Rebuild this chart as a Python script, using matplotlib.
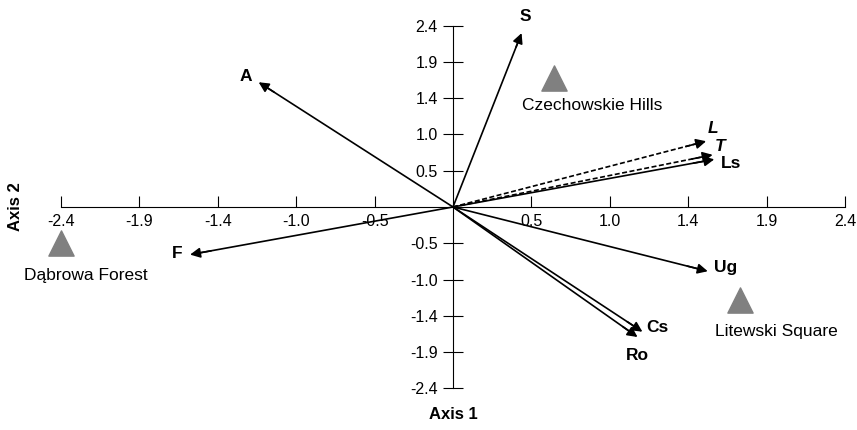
import matplotlib
matplotlib.use("Agg")
import matplotlib.pyplot as plt
import numpy as np

plt.rcParams['font.family'] = ['Liberation Sans', 'DejaVu Sans']

# environmental vectors (axis 1, axis 2)
var_names = ['S', 'A', 'L', 'T', 'Ls', 'Ug', 'Cs', 'Ro', 'F']
var_x = [0.42, -1.19, 1.55, 1.59, 1.60, 1.56, 1.16, 1.13, -1.61]
var_y = [2.30, 1.65, 0.87, 0.69, 0.63, -0.85, -1.65, -1.72, -0.63]
var_dashed = [False, False, True, True, False, False, False, False, False]
var_italic = [False, False, True, True, False, False, False, False, False]
# label offsets in points
var_offsets = [(3, 12), (-9, 4), (5, 9), (5, 6), (12, -3), (13, 3), (11, 3), (0, -13), (-9, 1)]

# study sites
site_names = ['Czechowskie Hills', 'Dąbrowa Forest', 'Litewski Square']
site_x = [0.62, -2.40, 1.76]
site_y = [1.71, -0.48, -1.23]
site_offsets = [(27, -20), (18, -23), (26, -23)]

ticks = np.arange(-5, 6) * 0.48
ticks = ticks[ticks != 0]

fig = plt.figure(figsize=(8.57, 4.30), dpi=100)
ax = fig.add_axes([0, 0, 1, 1])
ax.set_xlim(-2.774, 2.474)
ax.set_ylim(-2.950, 2.738)

for side in ['top', 'right']:
    ax.spines[side].set_visible(False)
ax.spines['left'].set_position(('data', 0))
ax.spines['bottom'].set_position(('data', 0))
ax.spines['left'].set_bounds(-2.4, 2.4)
ax.spines['bottom'].set_bounds(-2.4, 2.4)
ax.set_xticks(ticks)
ax.set_yticks(ticks)
ax.set_xticklabels(['%.1f' % t for t in ticks])
ax.set_yticklabels(['%.1f' % t for t in ticks])
ax.tick_params(axis='x', direction='in', length=8, labelsize=11.5, pad=5)
ax.tick_params(axis='y', direction='inout', length=14, labelsize=11.5, pad=4)

for name, x, y, dashed, italic, off in zip(var_names, var_x, var_y, var_dashed,
                                           var_italic, var_offsets):
    ax.plot([0, x * 0.96], [0, y * 0.96], color='black', lw=1.2,
            linestyle=(0, (3, 1.5)) if dashed else '-')
    ax.annotate('', xy=(x, y), xytext=(x * 0.92, y * 0.92),
                arrowprops=dict(arrowstyle='-|>', color='black', lw=1.2,
                                mutation_scale=15, shrinkA=0, shrinkB=0))
    ax.annotate(name, xy=(x, y), xytext=off, textcoords='offset points',
                ha='center', va='center', fontsize=12.5, fontweight='bold',
                style='italic' if italic else 'normal')

ax.scatter(site_x, site_y, marker='^', s=330, color='#808080', zorder=3)
for name, x, y, off in zip(site_names, site_x, site_y, site_offsets):
    ax.annotate(name, xy=(x, y), xytext=off, textcoords='offset points',
                ha='center', va='center', fontsize=12.5)

ax.text(0, -2.75, 'Axis 1', ha='center', va='center', fontsize=12, fontweight='bold')
ax.text(-2.68, 0, 'Axis 2', ha='center', va='center', rotation=90,
        fontsize=12, fontweight='bold')

fig.savefig('out.png', dpi=100)
